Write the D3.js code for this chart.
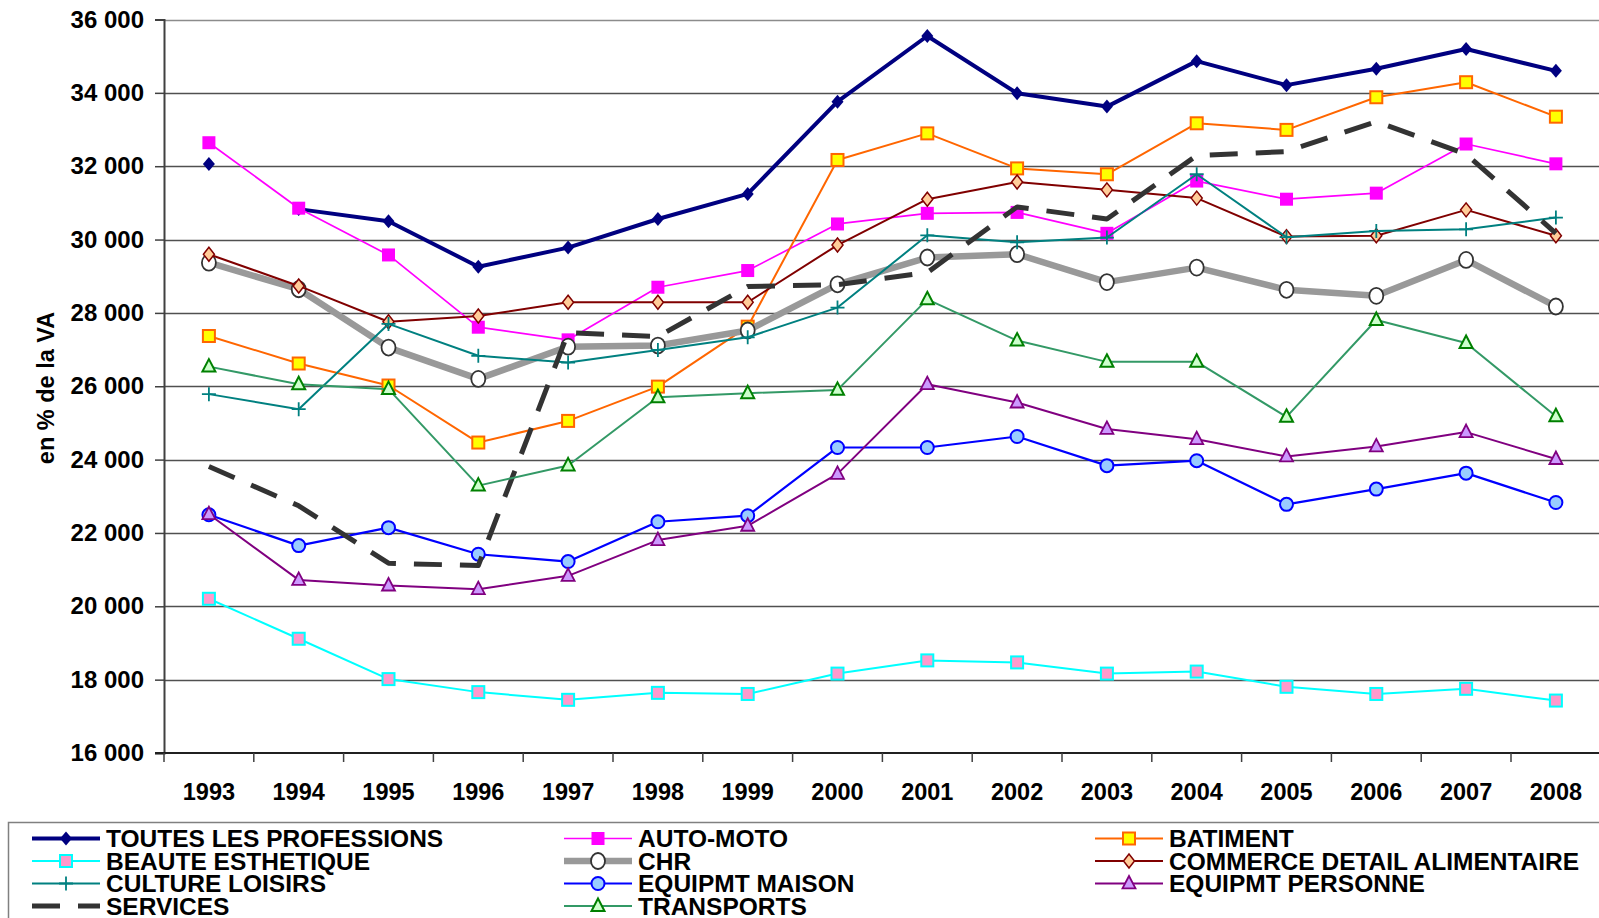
<!DOCTYPE html>
<html>
<head>
<meta charset="utf-8">
<script src="https://cdn.jsdelivr.net/npm/d3@7"></script>
<style>
  html, body { margin: 0; padding: 0; background: #fff; overflow: hidden; }
  svg { display: block; }
  text { font-family: "Liberation Sans", Arial, sans-serif; font-weight: bold; fill: #000; }
</style>
</head>
<body>
<svg id="chart" width="1599" height="918"></svg>
<script>
// ---------------- DATA ----------------
const years = ["1993","1994","1995","1996","1997","1998","1999","2000","2001","2002","2003","2004","2005","2006","2007","2008"];
const yTicks = [16000, 18000, 20000, 22000, 24000, 26000, 28000, 30000, 32000, 34000, 36000];
const yTitle = "en % de la VA";

const toutesLesProfessions = [32060, 30830, 30500, 29260, 29780, 30560, 31245, 33760, 35550, 33990, 33625, 34865, 34210, 34655, 35195, 34600];
const autoMoto             = [32640, 30855, 29580, 27610, 27265, 28700, 29155, 30425, 30715, 30740, 30170, 31595, 31100, 31265, 32605, 32065];
const batiment             = [27370, 26620, 26020, 24465, 25055, 25990, 27625, 32170, 32895, 31940, 31780, 33170, 32990, 33880, 34290, 33350];
const beauteEsthetique     = [20205, 19115, 18015, 17660, 17450, 17640, 17610, 18165, 18525, 18470, 18165, 18220, 17805, 17610, 17750, 17430];
const chr                  = [29370, 28645, 27055, 26200, 27080, 27110, 27520, 28780, 29510, 29600, 28840, 29235, 28630, 28465, 29445, 28175];
const commerceDetailAlim   = [29600, 28735, 27760, 27915, 28290, 28290, 28290, 29850, 31100, 31570, 31355, 31130, 30080, 30105, 30810, 30105];
const cultureLoisirs       = [25785, 25375, 27700, 26830, 26645, 26990, 27335, 28145, 30115, 29925, 30055, 31780, 30065, 30235, 30280, 30600];
const equipmtMaison        = [22495, 21655, 22145, 21420, 21220, 22305, 22470, 24330, 24330, 24630, 23835, 23970, 22780, 23195, 23630, 22830];
const equipmtPersonne      = [22510, 20720, 20565, 20465, 20830, 21805, 22195, 23610, 26055, 25555, 24835, 24555, 24085, 24360, 24750, 24015];
const services             = [23810, 22740, 21175, 21110, 27460, 27355, 28720, 28770, 29100, 30890, 30560, 32290, 32400, 33215, 32330, 30170];
const transports           = [26535, 26055, 25920, 23290, 23840, 25700, 25810, 25900, 28370, 27245, 26665, 26665, 25165, 27805, 27180, 25180];

const seriesNames = ["TOUTES LES PROFESSIONS","AUTO-MOTO","BATIMENT","BEAUTE ESTHETIQUE","CHR","COMMERCE DETAIL ALIMENTAIRE","CULTURE LOISIRS","EQUIPMT MAISON","EQUIPMT PERSONNE","SERVICES","TRANSPORTS"];
const seriesValues = [toutesLesProfessions, autoMoto, batiment, beauteEsthetique, chr, commerceDetailAlim, cultureLoisirs, equipmtMaison, equipmtPersonne, services, transports];
// first index joined by the line (the 1993 point of the first series stands alone)
const lineStartIndex = [1, 0, 0, 0, 0, 0, 0, 0, 0, 0, 0];

// ---------------- STYLES ----------------
const styles = [
  {stroke:"#000080", width:4,   marker:{type:"diamond", w:6,  h:7,  fill:"#000080", stroke:"none", sw:0}},
  {stroke:"#FF00FF", width:1.7, marker:{type:"square",  s:13, fill:"#FF00FF", stroke:"none", sw:0}},
  {stroke:"#FF6600", width:2,   marker:{type:"square",  s:12, fill:"#FFFF00", stroke:"#FF6600", sw:2}},
  {stroke:"#00FFFF", width:2,   marker:{type:"square",  s:12, fill:"#FF99CC", stroke:"#00FFFF", sw:2}},
  {stroke:"#999999", width:6.5, marker:{type:"ellipse", rx:7, ry:8, fill:"#FFFFFF", stroke:"#333333", sw:1.8}},
  {stroke:"#800000", width:2,   marker:{type:"diamond", w:5.5, h:7, fill:"#FFCC99", stroke:"#800000", sw:1.5}},
  {stroke:"#008080", width:2,   marker:{type:"plus",    s:7,  fill:"none", stroke:"#008080", sw:1.8}},
  {stroke:"#0000FF", width:2.2, marker:{type:"ellipse", rx:6.5, ry:6.5, fill:"#99CCFF", stroke:"#0000FF", sw:2}},
  {stroke:"#800080", width:2,   marker:{type:"triangle", s:13, fill:"#CC99FF", stroke:"#800080", sw:1.8}},
  {stroke:"#333333", width:5,   dash:"28,18", marker:null},
  {stroke:"#339966", width:2,   marker:{type:"triangle", s:13, fill:"#CCFFCC", stroke:"#008000", sw:2}}
];

// ---------------- LAYOUT ----------------
const plotLeft = 164, bandW = 89.8;
const plotTop = 19.5, plotBottom = 753;
const svg = d3.select("#chart");

const x = d3.scaleBand().domain(years).range([plotLeft, plotLeft + bandW * years.length]).paddingInner(0).paddingOuter(0);
const xc = d => x(d) + x.bandwidth() / 2;
const y = d3.scaleLinear().domain([16000, 36000]).range([plotBottom, plotTop]);
const fmt = v => d3.format(",")(v).replace(/,/g, " ");

// gridlines
svg.append("g").selectAll("line").data(yTicks.slice(1)).join("line")
  .attr("x1", plotLeft).attr("x2", 1600)
  .attr("y1", d => Math.round(y(d)) + 0.5).attr("y2", d => Math.round(y(d)) + 0.5)
  .attr("stroke", (d, i, a) => i === a.length - 1 ? "#8c8c8c" : "#505050").attr("stroke-width", 1.3);

// y axis
const yAxis = d3.axisLeft(y).tickValues(yTicks).tickSize(9).tickPadding(11).tickFormat(fmt);
const gy = svg.append("g").attr("transform", `translate(${plotLeft},0)`).call(yAxis);
gy.select(".domain").attr("stroke", "#404040").attr("stroke-width", 2);
gy.selectAll(".tick line").attr("stroke", "#404040").attr("stroke-width", 1.5);
gy.selectAll(".tick text").style("font-size", "24px").style("font-family", "'Liberation Sans', Arial, sans-serif").style("font-weight", "bold").attr("fill", "#000");

// x axis (labels at category centres, ticks between categories)
const gx = svg.append("g").attr("transform", `translate(0,${plotBottom})`);
gx.append("line").attr("x1", plotLeft - 9).attr("x2", 1600).attr("y1", 0).attr("y2", 0)
  .attr("stroke", "#202020").attr("stroke-width", 2);
gx.selectAll("line.tk").data(years).join("line").attr("class", "tk")
  .attr("x1", d => x(d)).attr("x2", d => x(d)).attr("y1", 0).attr("y2", 9)
  .attr("stroke", "#404040").attr("stroke-width", 1.5);
gx.selectAll("text").data(years).join("text")
  .attr("x", xc).attr("y", 39).attr("dy", "0.35em").attr("text-anchor", "middle")
  .style("font-size", "23.5px").text(d => d);

// y title
svg.append("text").attr("transform", "translate(46,388) rotate(-90)")
  .attr("text-anchor", "middle").attr("dy", "0.35em").style("font-size", "23.5px").text(yTitle);

// ---------------- MARKERS ----------------
function drawMarker(g, m) {
  if (!m) return;
  if (m.type === "diamond") {
    g.append("path").attr("d", `M0,${-m.h}L${m.w},0L0,${m.h}L${-m.w},0Z`);
  } else if (m.type === "square") {
    g.append("rect").attr("x", -m.s/2).attr("y", -m.s/2).attr("width", m.s).attr("height", m.s);
  } else if (m.type === "ellipse") {
    g.append("ellipse").attr("rx", m.rx).attr("ry", m.ry);
  } else if (m.type === "triangle") {
    const s = m.s;
    g.append("path").attr("d", `M0,${-s*0.58}L${s/2},${s*0.38}L${-s/2},${s*0.38}Z`);
  } else if (m.type === "plus") {
    g.append("path").attr("d", `M${-m.s},0H${m.s}M0,${-m.s}V${m.s}`);
  }
  g.selectAll("*").attr("fill", m.fill).attr("stroke", m.stroke).attr("stroke-width", m.sw);
}

// ---------------- SERIES ----------------
const line = d3.line().x(d => xc(d.year)).y(d => y(d.v));
const plot = svg.append("g");
seriesValues.forEach((vals, si) => {
  const st = styles[si];
  const pts = vals.map((v, i) => ({year: years[i], v, i}));
  const g = plot.append("g");
  g.append("path").datum(pts.filter(p => p.i >= lineStartIndex[si]))
    .attr("d", line).attr("fill", "none").attr("stroke", st.stroke).attr("stroke-width", st.width)
    .attr("stroke-linejoin", "round").attr("stroke-dasharray", st.dash || null);
  if (st.marker) {
    pts.forEach(p => {
      const mg = g.append("g").attr("transform", `translate(${xc(p.year)},${y(p.v)})`);
      drawMarker(mg, st.marker);
    });
  }
});

// ---------------- LEGEND ----------------
const lg = svg.append("g");
lg.append("rect").attr("x", 8.5).attr("y", 822.5).attr("width", 1620).attr("height", 140)
  .attr("fill", "#fff").attr("stroke", "#808080").attr("stroke-width", 1.5);
const colX = [32, 564, 1095];
const rowY = [838.5, 861, 883.5, 906];
seriesNames.forEach((name, i) => {
  const c = i % 3, r = Math.floor(i / 3);
  const st = styles[i];
  const gi = lg.append("g").attr("transform", `translate(${colX[c]},${rowY[r]})`);
  gi.append("line").attr("x1", 0).attr("x2", 68).attr("y1", 0).attr("y2", 0)
    .attr("stroke", st.stroke).attr("stroke-width", st.width).attr("stroke-dasharray", st.dash || null);
  if (st.marker) drawMarker(gi.append("g").attr("transform", "translate(34,0)"), st.marker);
  gi.append("text").attr("x", 74).attr("y", 0).attr("dy", "0.36em").style("font-size", "24.5px").text(name);
});
</script>
</body>
</html>
